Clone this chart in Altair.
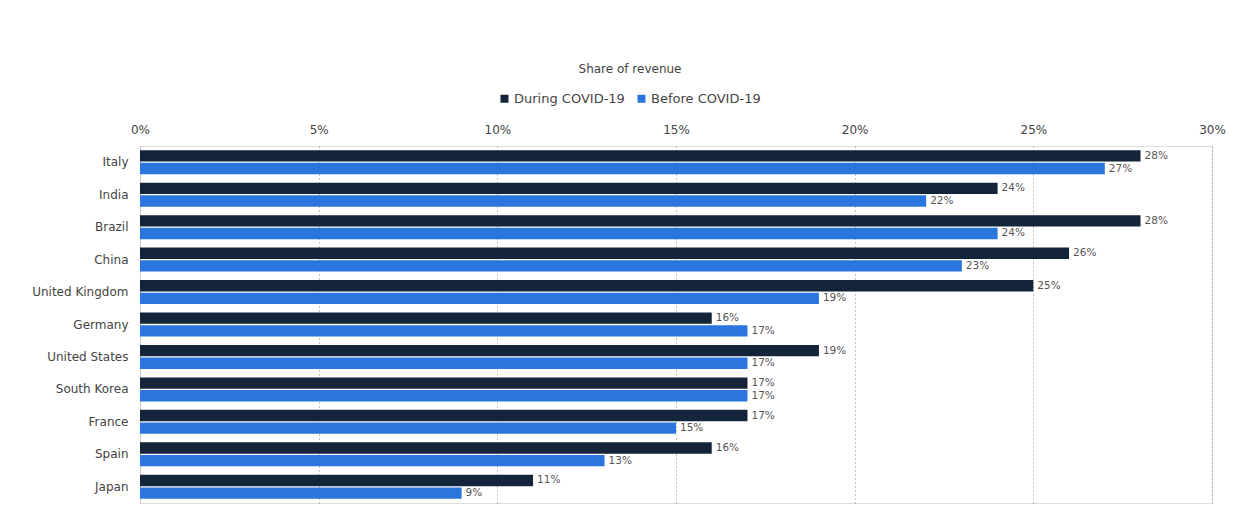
import altair as alt
import pandas as pd

countries = ["Italy", "India", "Brazil", "China", "United Kingdom", "Germany",
             "United States", "South Korea", "France", "Spain", "Japan"]
during = [28, 24, 28, 26, 25, 16, 19, 17, 17, 16, 11]
before = [27, 22, 24, 23, 19, 17, 17, 17, 15, 13, 9]
series = ["During COVID-19", "Before COVID-19"]
colors = ["#13243b", "#2b76de"]

FONT = "DejaVu Sans"

rows = []
for c, d, b in zip(countries, during, before):
    rows.append({"country": c, "series": series[0], "value": d})
    rows.append({"country": c, "series": series[1], "value": b})
df = pd.DataFrame(rows)

y = alt.Y("country:N", sort=countries, title=None,
          scale=alt.Scale(paddingInner=0.26, paddingOuter=0.13),
          axis=alt.Axis(labelFontSize=12, labelColor="#444", labelPadding=12,
                        ticks=False, domain=True, domainColor="#cccccc",
                        labelFont=FONT))
x = alt.X("value:Q", title=None,
          scale=alt.Scale(domain=[0, 30], nice=False),
          axis=alt.Axis(orient="top", values=[0, 5, 10, 15, 20, 25, 30],
                        labelExpr="datum.value + '%'", labelFontSize=12,
                        labelColor="#444", labelPadding=10, ticks=False,
                        labelFlush=False,
                        domain=False, grid=True, gridDash=[1, 3],
                        gridColor="#888", gridWidth=1,
                        labelFont=FONT))
yoff = alt.YOffset("series:N", sort=series,
                   scale=alt.Scale(paddingInner=0.1))

bars = alt.Chart(df).mark_bar().encode(
    x=x, y=y, yOffset=yoff,
    color=alt.Color("series:N", sort=series,
                    scale=alt.Scale(domain=series, range=colors),
                    legend=alt.Legend(orient="none", legendX=358, legendY=-54,
                                      direction="horizontal", title=None,
                                      symbolType="square", symbolSize=64,
                                      labelFontSize=13, labelColor="#444",
                                      columnPadding=10, symbolOffset=0,
                                      labelOffset=3,
                                      labelFont=FONT)),
)

labels = alt.Chart(df).mark_text(align="left", baseline="middle", dx=4,
                                 fontSize=10.5, color="#555",
                                 font=FONT).encode(
    x="value:Q", y=alt.Y("country:N", sort=countries), yOffset=yoff,
    text=alt.Text("label:N"),
).transform_calculate(label="datum.value + '%'")

chart = (bars + labels).properties(
    width=1072, height=357,
    title=alt.TitleParams("Share of revenue", fontSize=12, fontWeight="normal",
                          color="#444", anchor="middle", dx=-46, offset=16,
                          font=FONT),
    autosize=alt.AutoSizeParams(type="none"),
    padding={"left": 140, "top": 146, "right": 36, "bottom": 20},
).configure_view(stroke=None).configure(background="white")

chart.save("out.html", embed_options={"renderer": "svg", "actions": False})
